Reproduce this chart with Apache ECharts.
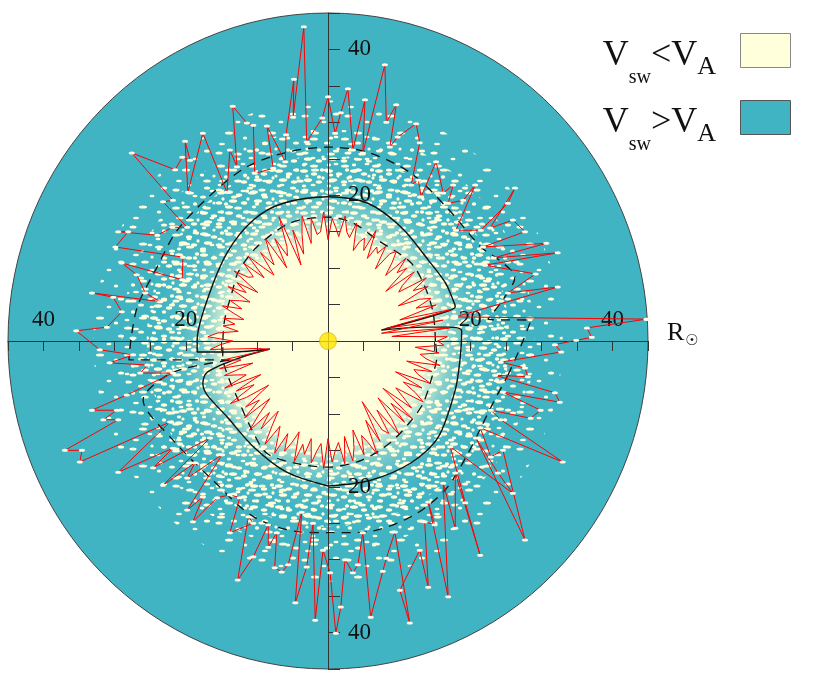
<!DOCTYPE html>
<html>
<head>
<meta charset="utf-8">
<style>html,body{margin:0;padding:0;background:#fff}#chart{width:830px;height:684px}</style>
<script src="https://cdn.jsdelivr.net/npm/echarts@6/dist/echarts.min.js"></script>
</head>
<body>
<div id="chart"></div>
<script>
// 数据 (单位: 太阳半径 R☉)
const diskRadius = 45;
const tickLabels = [20, 40];

// 内层红线: 每 2° 一个半径
const innerStep = 2;
const innerRadii = [
    15.4, 16.8, 9.0, 17.2, 7.6, 16.4, 8.4, 17.9, 10.5, 16.0,
    13.2, 15.6, 14.1, 11.0, 15.9, 13.8, 16.3, 12.0, 12.9, 15.4, 10.6, 14.9, 13.5,
    15.8, 12.1, 14.0, 15.6, 14.8, 11.9, 15.3, 13.9, 14.6, 12.6, 16.6, 13.4, 15.0, 14.3, 12.9, 16.7, 14.5,
    15.2, 17.3, 14.4, 15.6, 16.8, 13.9, 17.7, 15.0, 14.7, 17.0,
    13.6, 17.5, 15.1, 12.4, 16.0, 11.1, 18.4, 14.2, 13.0, 15.9, 11.6, 16.6, 14.8, 12.9, 15.4, 11.8, 13.5, 16.1,
    12.5, 15.9, 13.7, 14.2, 16.3, 11.9, 15.1, 13.3, 15.9, 12.2, 13.6, 14.8, 12.9, 15.6, 13.8, 12.2, 15.0,
    13.3, 14.9, 12.7, 15.6, 16.9, 13.4, 15.2, 16.6, 9.8, 8.3, 14.9, 12.5, 15.7,
    11.0, 15.3, 13.6, 12.4, 15.9, 10.5, 14.6, 12.0, 16.2, 13.8, 10.3, 14.7, 12.6, 15.8, 11.4, 13.9, 16.5, 12.8, 15.3, 11.9, 14.1, 16.7,
    13.5, 15.0, 17.1, 13.9, 16.3, 14.8, 13.1, 17.2, 14.6, 15.9, 13.6, 16.9, 15.2, 14.1, 17.5, 13.4, 16.6, 15.0, 14.0, 17.0,
    13.3, 16.8, 15.1, 12.7, 16.4, 13.8, 15.0, 17.0, 12.1, 15.6, 9.6, 14.4, 15.3, 11.7, 16.2, 13.9, 10.5, 15.5, 12.3, 15.9,
    10.1, 14.9, 13.0, 11.5, 15.8, 14.2, 12.0, 14.7, 10.4, 15.6, 13.5, 12.7, 15.2, 11.4, 16.1, 14.0, 13.1, 15.7, 12.3, 16.3
];

// 外层红线 [x, y]
const outerPoints = [
    [44.8, 3.0], [17.9, 3.3], [32.3, 7.4], [25.3, 6.6], [29.2, 9.2], [22.1, 10.4], [32.3, 12.1], [23.3, 11.4],
    [30.7, 13.4], [21.8, 12.9], [27.7, 15.0], [26.0, 16.6], [22.8, 15.5], [26.3, 21.0], [25.3, 18.9], [21.5, 15.2],
    [18.0, 15.2], [20.7, 21.4], [19.0, 19.3], [16.9, 18.9], [17.6, 21.4], [16.2, 20.3], [15.2, 24.6], [13.1, 19.8],
    [12.7, 22.1], [11.7, 21.4], [12.9, 27.2], [12.4, 29.8], [9.8, 28.0], [8.7, 26.6], [9.6, 32.4], [8.2, 30.0],
    [8.0, 37.9], [4.9, 25.8], [5.2, 33.1], [3.5, 26.2], [2.8, 34.6], [1.8, 31.3], [1.0, 28.5], [0, 33.5],
    [-0.8, 30.6], [-3.0, 27.3], [-3.4, 43.1], [-4.9, 30.7], [-4.8, 35.9], [-5.9, 28.3], [-6.0, 24.6], [-8.6, 29.5],
    [-7.7, 23.7], [-10.3, 23.0], [-10.5, 29.6], [-11.4, 29.9], [-13.4, 32.2], [-12.8, 23.9], [-13.8, 26.2], [-14.2, 20.4],
    [-17.6, 28.5], [-19.7, 20.4], [-20.1, 27.4], [-19.4, 24.8], [-20.5, 25.2], [-21.5, 23.5], [-27.6, 25.8], [-21.8, 19.3],
    [-23.2, 19.1], [-19.8, 15.6], [-21.9, 15.6], [-24.0, 14.5], [-29.5, 15.0], [-28.1, 15.0], [-29.9, 12.9], [-20.4, 11.5],
    [-20.5, 8.4], [-29.0, 10.7], [-26.9, 9.1], [-25.7, 6.6], [-23.6, 5.4], [-33.2, 6.6], [-30.2, 6.0], [-29.0, 4.0],
    [-31.1, 1.9], [-35.4, 1.4],
    [-32.1, -1.2], [-27.4, -1.9], [-30.7, -3.0], [-25.4, -3.3], [-26.4, -4.4], [-21.8, -4.4], [-28.3, -7.4], [-33.2, -9.5],
    [-29.7, -9.5], [-31.6, -10.8], [-29.5, -10.8], [-37.0, -15.0], [-34.6, -15.0], [-34.9, -16.6], [-22.2, -11.1], [-29.5, -18.0],
    [-21.8, -14.7], [-24.6, -17.4], [-16.6, -13.3], [-23.2, -19.8], [-18.7, -16.7], [-19.8, -18.8], [-14.9, -15.6], [-19.8, -23.2],
    [-17.6, -21.4], [-19.0, -24.8], [-15.6, -21.5], [-13.8, -21.1], [-12.4, -21.5], [-13.8, -26.3], [-10.5, -25.0], [-11.2, -24.1],
    [-12.7, -32.8], [-10.5, -29.6], [-8.4, -25.2], [-8.4, -28.3], [-7.2, -26.3], [-7.5, -31.1], [-6.5, -31.7], [-5.6, -30.7],
    [-3.7, -23.5], [-4.6, -35.9], [-3.0, -31.0], [-2.1, -25.0], [-1.8, -38.3], [-0.7, -28.7], [0.3, -31.8],
    [1.1, -40.1], [1.8, -36.5], [2.4, -30.0], [3.5, -31.8], [4.2, -30.7], [4.9, -26.3], [6.0, -37.9], [7.7, -31.6],
    [8.2, -29.8], [9.4, -26.2], [11.5, -38.7], [10.1, -34.2], [12.9, -28.7], [14.1, -33.8], [13.6, -24.8], [15.0, -25.2],
    [14.1, -22.1], [16.9, -35.1], [16.2, -19.5], [17.9, -25.7], [17.9, -18.1], [21.4, -29.4], [19.3, -22.2], [17.2, -14.5],
    [26.0, -20.9], [23.9, -18.1], [20.8, -13.3], [27.7, -27.3], [24.6, -15.0], [22.9, -15.9], [21.4, -11.9], [33.0, -16.6],
    [24.3, -10.8], [22.9, -9.5], [28.5, -10.6], [29.9, -9.5], [24.6, -7.0], [32.6, -8.4], [31.9, -7.1], [23.5, -4.7],
    [28.1, -4.9], [27.7, -3.7], [24.3, -2.9], [32.8, -1.5], [31.9, -0.5], [34.9, 0.1], [37.1, 0.5], [36.4, 1.8],
    [44.8, 3.0]
];

// 黑色实线 (带尖角)
const solidCurve = [
    [0, -19.9], [6.0, -19.1], [11.7, -16.7], [15.5, -13.2], [17.9, -6.7], [18.6, -2.2], [18.8, 1.4], [16.7, 1.9],
    [13.4, 1.9], [7.5, 1.5], [15.5, 3.7], [17.9, 4.7], [17.6, 5.6], [16.5, 8.0], [14.1, 11.1], [10.3, 15.6],
    [5.6, 18.9], [0, 19.8], [-6.3, 18.9], [-10.5, 16.6], [-14.2, 12.1], [-17.0, 5.6], [-18.4, 0.1], [-18.4, -1.5],
    [-13.4, -1.5], [-8.2, -1.1], [-12.4, -2.3], [-17.0, -4.3], [-17.6, -5.8], [-17.0, -7.4], [-14.2, -10.4], [-10.5, -14.5],
    [-5.8, -18.0], [0, -19.9]
];

// 内、外虚线
const innerDashed = [
    [15.1, 0], [14.8, 3.8], [13.6, 7.5], [11.6, 10.8], [6.9, 13.9], [3.5, 16.2], [0, 17.0], [-5.3, 16.2],
    [-10.0, 12.9], [-12.6, 9.5], [-13.4, 7.0], [-14.6, 2.5], [-14.8, -2.2], [-14.0, -5.0], [-12.8, -7.7], [-10.8, -12.0],
    [-8.6, -15.4], [-4.5, -16.8], [0, -17.3], [4.6, -16.4], [8.7, -14.0], [11.8, -10.8], [13.4, -8.5], [14.6, -5.0],
    [15.3, -2.2], [15.1, 0]
];
const outerDashed = [
    [25.3, -4.7], [27.0, -1.0], [28.5, 2.8], [22.5, 3.0], [24.4, 5.4], [26.3, 8.8], [24.2, 11.0], [21.5, 12.9],
    [17.0, 18.0], [11.7, 23.0], [5.6, 25.9], [0, 26.6], [-5.8, 25.9], [-11.4, 23.9], [-16.2, 20.3], [-21.2, 15.2],
    [-24.0, 10.2], [-26.7, 5.0], [-27.6, 1.0], [-28.0, -2.6], [-13.4, -2.6], [-21.8, -4.3], [-26.0, -8.1], [-21.8, -13.6],
    [-16.2, -19.1], [-10.5, -24.1], [-3.9, -26.2], [0, -26.3], [5.2, -26.2], [11.7, -24.1], [16.5, -20.4], [19.7, -15.4],
    [22.9, -9.1], [25.3, -4.7]
];

const cream = '#ffffdc';
const teal = '#41b4c4';
const serif = 'Liberation Serif';

// 内层红线转成 x/y
const innerPoints = innerRadii.map(function (r, i) {
    const a = i * innerStep * Math.PI / 180;
    return [r * Math.cos(a), r * Math.sin(a)];
});
innerPoints.push(innerPoints[0]);

// 斑点纹理 (只是样式)
function makeTile(w, h, marks) {
    const cv = document.createElement('canvas');
    cv.width = w;
    cv.height = h;
    const ctx = cv.getContext('2d');
    ctx.fillStyle = cream;
    marks.forEach(function (m) {
        ctx.beginPath();
        ctx.ellipse(m[0], m[1], m[2], m[3], 0, 0, Math.PI * 2);
        ctx.fill();
    });
    return cv;
}
const tileSparse = makeTile(43, 37, [[4, 5, 3.5, 1.5], [23, 11, 2.5, 1.3], [35, 3, 3, 1.5], [14, 22, 4, 1.5], [30, 27, 2.2, 1.5], [7, 33, 3, 1.3]]);
const tileMid = makeTile(31, 27, [[4, 4, 4, 1.6], [17, 8, 3, 1.6], [26, 2, 2.5, 1.3], [9, 15, 2.2, 1.8], [21, 19, 3.8, 1.6], [3, 23, 2.5, 1.3], [28, 14, 1.6, 1.6]]);
const tileDense = makeTile(25, 21, [[4, 3, 4, 1.8], [14, 6, 3.2, 1.7], [22, 2, 2.2, 1.7], [8, 12, 4.2, 1.8], [19, 14, 3.2, 1.7], [4, 18, 2.2, 1.4], [23, 10, 1.6, 1.7]]);
const speckleLayers = [[33, tileSparse], [29, tileMid], [25.5, tileDense]];

// 以原点为中心的椭圆 (x、y 比例略不同)
function ellipseRender(rad, style) {
    return function (params, api) {
        const c = api.coord([0, 0]);
        const px = api.coord([rad, 0]);
        const py = api.coord([0, rad]);
        return {
            type: 'ellipse',
            shape: { cx: c[0], cy: c[1], rx: px[0] - c[0], ry: c[1] - py[1] },
            style: style
        };
    };
}

let myChart = echarts.init(document.getElementById('chart'));

let speckleSeries = speckleLayers.map(function (layer) {
    return {
        name: 'speckle ' + layer[0], type: 'custom', z: 2, silent: true,
        data: [[0, 0]],
        renderItem: ellipseRender(layer[0], { fill: { image: layer[1], repeat: 'repeat' } })
    };
});

let option = {
    animation: false,
    grid: { left: 8, top: 13, width: 640, height: 656 },
    xAxis: {
        type: 'value', min: -diskRadius, max: diskRadius, interval: 5, z: 4,
        position: 'bottom', offset: -328,
        axisLine: { onZero: false, lineStyle: { color: '#333', width: 1 } },
        axisTick: { length: 10, lineStyle: { color: '#333' } },
        axisLabel: {
            inside: true, margin: 10, color: '#111', fontFamily: serif, fontSize: 23,
            formatter: function (v) { return tickLabels.indexOf(Math.abs(v)) >= 0 ? String(Math.abs(v)) : ''; }
        },
        splitLine: { show: false },
        name: '{r|R}{o|☉}', nameLocation: 'end', nameGap: 19,
        nameTextStyle: {
            padding: [0, 0, 16, 0],
            rich: {
                r: { fontFamily: serif, fontSize: 26, color: '#111' },
                o: { fontFamily: 'DejaVu Sans', fontSize: 15, color: '#111', padding: [16, 0, 0, 1] }
            }
        }
    },
    yAxis: {
        type: 'value', min: -diskRadius, max: diskRadius, interval: 5, z: 4,
        position: 'left', offset: -320,
        axisLine: { onZero: false, lineStyle: { color: '#333', width: 1 } },
        axisTick: { inside: true, length: 12, lineStyle: { color: '#333' } },
        axisLabel: {
            inside: true, margin: 20, color: '#111', fontFamily: serif, fontSize: 23,
            formatter: function (v) { return tickLabels.indexOf(Math.abs(v)) >= 0 ? String(Math.abs(v)) : ''; }
        },
        splitLine: { show: false }
    },
    // 图例 (右上角)
    graphic: [
        { type: 'rect', left: 740, top: 33, shape: { width: 50, height: 34 }, style: { fill: cream, stroke: '#888', lineWidth: 1 } },
        { type: 'rect', left: 740, top: 100, shape: { width: 50, height: 34 }, style: { fill: teal, stroke: '#555', lineWidth: 1 } },
        {
            type: 'text', x: 716, y: 56,
            style: {
                text: '{v|V}{s|sw}{v|<V}{a|A}', align: 'right', verticalAlign: 'middle',
                rich: {
                    v: { fontFamily: serif, fontSize: 36, fill: '#111' },
                    s: { fontFamily: serif, fontSize: 20, fill: '#111', padding: [44, 0, 0, 0] },
                    a: { fontFamily: serif, fontSize: 26, fill: '#111', padding: [22, 0, 0, 0] }
                }
            }
        },
        {
            type: 'text', x: 716, y: 123,
            style: {
                text: '{v|V}{s|sw}{v|>V}{a|A}', align: 'right', verticalAlign: 'middle',
                rich: {
                    v: { fontFamily: serif, fontSize: 36, fill: '#111' },
                    s: { fontFamily: serif, fontSize: 20, fill: '#111', padding: [44, 0, 0, 0] },
                    a: { fontFamily: serif, fontSize: 26, fill: '#111', padding: [22, 0, 0, 0] }
                }
            }
        }
    ],
    series: [
        {
            name: 'V_sw>V_A', type: 'custom', z: 1, silent: true,
            itemStyle: { color: teal },
            data: [[0, 0]],
            renderItem: ellipseRender(diskRadius, { fill: teal, stroke: '#444', lineWidth: 1 })
        },
        {
            // 斑点区域内侧的过渡
            name: 'speckle glow', type: 'custom', z: 2, silent: true,
            data: [[0, 0]],
            renderItem: ellipseRender(30, {
                fill: new echarts.graphic.RadialGradient(0.5, 0.5, 0.5, [
                    { offset: 0, color: 'rgba(255,255,220,1)' },
                    { offset: 0.48, color: 'rgba(255,255,220,0.85)' },
                    { offset: 0.58, color: 'rgba(255,255,220,0.35)' },
                    { offset: 0.68, color: 'rgba(255,255,220,0.1)' },
                    { offset: 0.8, color: 'rgba(255,255,220,0)' }
                ])
            })
        }
    ].concat(speckleSeries, [
        {
            name: 'V_sw<V_A', type: 'custom', z: 3, silent: true,
            itemStyle: { color: cream },
            data: [[0, 0]],
            renderItem: function (params, api) {
                return {
                    type: 'polygon',
                    shape: { points: innerPoints.map(function (p) { return api.coord(p); }) },
                    style: { fill: cream }
                };
            }
        },
        {
            name: 'inner dashed', type: 'line', z: 5, data: innerDashed, showSymbol: false, smooth: 0.3, silent: true,
            lineStyle: { color: '#111', width: 1.3, type: [9, 7] }
        },
        {
            name: 'outer dashed', type: 'line', z: 5, data: outerDashed, showSymbol: false, smooth: 0.3, silent: true,
            lineStyle: { color: '#111', width: 1.3, type: [9, 7] }
        },
        {
            name: 'solid', type: 'line', z: 5, data: solidCurve, showSymbol: false, smooth: 0.3, silent: true,
            lineStyle: { color: '#111', width: 1.4 }
        },
        {
            name: 'inner red', type: 'line', z: 6, data: innerPoints, showSymbol: false, silent: true,
            lineStyle: { color: '#ff0000', width: 1 }
        },
        {
            name: 'outer red', type: 'line', z: 6, data: outerPoints, silent: true,
            symbol: 'circle', symbolSize: [6, 3], showSymbol: true,
            itemStyle: { color: '#fffbe6' },
            lineStyle: { color: '#ff0000', width: 1 }
        },
        {
            name: 'Sun', type: 'scatter', z: 10, data: [[0, 0]], symbolSize: 17, silent: true,
            itemStyle: { color: '#ffe600', borderColor: '#c9a800', borderWidth: 0.8 }
        }
    ])
};
myChart.setOption(option);
</script>
</body>
</html>
